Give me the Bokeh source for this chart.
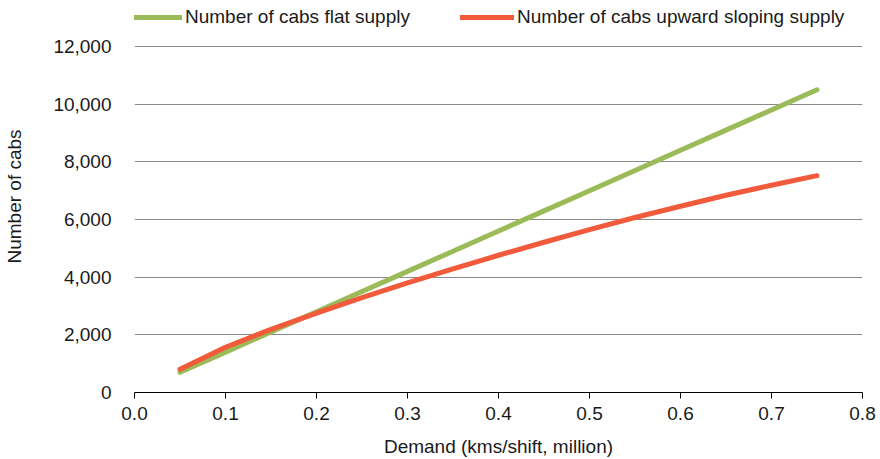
from bokeh.plotting import figure
from bokeh.models import (Legend, LegendItem, SingleIntervalTicker,
                          NumeralTickFormatter, Range1d)
from bokeh.embed import file_html
from bokeh.resources import INLINE

# Demand in million kms per shift
demand = [0.05, 0.10, 0.15, 0.20, 0.25, 0.30, 0.35, 0.40,
          0.45, 0.50, 0.55, 0.60, 0.65, 0.70, 0.75]
# Number of cabs required with a flat supply curve
cabs_flat = [700, 1400, 2100, 2800, 3500, 4200, 4900, 5600,
             6300, 7000, 7700, 8400, 9100, 9800, 10500]
# Number of cabs required with an upward sloping supply curve
cabs_sloping = [810, 1570, 2190, 2750, 3290, 3800, 4290, 4760,
                5210, 5650, 6070, 6460, 6840, 7190, 7520]

series_names = ["Number of cabs flat supply",
                "Number of cabs upward sloping supply"]

FONT = "Liberation Sans"
TEXT = "#1a1a1a"
FS = "19px"

# the frame reaches up to the top of the canvas so the legend can sit above
# the 12,000 gridline; 346 px of it cover the 0..12,000 band
PLOT_PX = 346
FRAME_PX = 392
Y_MAX = 12000

p = figure(frame_width=728, frame_height=FRAME_PX,
           output_backend="svg", toolbar_location=None,
           x_range=Range1d(0, 0.8),
           y_range=Range1d(0, Y_MAX * FRAME_PX / PLOT_PX),
           min_border_left=134, min_border_right=18,
           min_border_top=0, min_border_bottom=67)
p.outline_line_color = None
p.background_fill_color = "white"
p.border_fill_color = "white"

green = p.line(demand, cabs_flat, line_color="#9BBB59", line_width=5,
               line_cap="round", line_join="round")
red = p.line(demand, cabs_sloping, line_color="#F15A3A", line_width=5,
             line_cap="round", line_join="round")

# axes
p.xaxis.ticker = SingleIntervalTicker(interval=0.1)
p.xaxis.formatter = NumeralTickFormatter(format="0.0")
p.xaxis.axis_line_color = "black"
p.xaxis.axis_line_width = 1
p.xaxis.major_tick_line_color = "black"
p.xaxis.major_tick_in = 0
p.xaxis.major_tick_out = 6
p.xaxis.minor_tick_line_color = None
p.xaxis.major_label_standoff = 8
p.xaxis.axis_label = "Demand (kms/shift, million)"
p.xaxis.axis_label_standoff = 13

p.yaxis.ticker = SingleIntervalTicker(interval=2000)
p.yaxis.formatter = NumeralTickFormatter(format="0,0")
p.yaxis.axis_line_color = None
p.yaxis.major_tick_line_color = None
p.yaxis.minor_tick_line_color = None
p.yaxis.major_tick_in = 0
p.yaxis.major_tick_out = 0
p.yaxis.major_label_standoff = 19
p.yaxis.axis_label = "Number of cabs"
p.yaxis.axis_label_standoff = 25

for ax in (p.xaxis[0], p.yaxis[0]):
    ax.major_label_text_font = FONT
    ax.major_label_text_font_size = FS
    ax.major_label_text_color = TEXT
    ax.axis_label_text_font = FONT
    ax.axis_label_text_font_size = FS
    ax.axis_label_text_font_style = "normal"
    ax.axis_label_text_color = TEXT

p.xgrid.grid_line_color = None
p.ygrid.grid_line_color = "#8a8a8a"
p.ygrid.grid_line_width = 1

# legend positioned in screen units from the frame's lower-left corner
legend = Legend(items=[LegendItem(label=series_names[0], renderers=[green]),
                       LegendItem(label=series_names[1], renderers=[red])],
                orientation="horizontal", location=(-6, 364),
                glyph_width=54, glyph_height=12, label_standoff=3,
                spacing=50, padding=0, margin=0,
                border_line_color=None, background_fill_alpha=0,
                label_text_font=FONT, label_text_font_size=FS,
                label_text_color=TEXT)
p.add_layout(legend, "center")

open("out.html", "w").write(file_html(p, INLINE))
